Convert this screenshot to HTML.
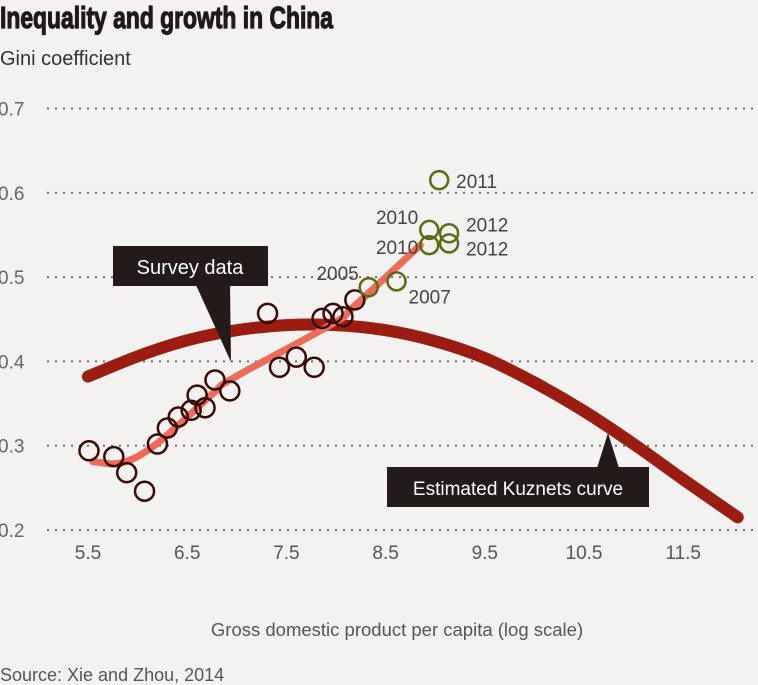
<!DOCTYPE html>
<html><head><meta charset="utf-8">
<style>
html,body{margin:0;padding:0;background:#f3f2f0;}
body{width:758px;height:685px;overflow:hidden;position:relative;font-family:"Liberation Sans",sans-serif;}
svg{position:absolute;left:0;top:0;}
</style></head>
<body>
<svg id="chart" width="758" height="685">
<rect x="0" y="0" width="758" height="685" fill="#f3f2f0"/>
<text x="0" y="28" font-family="Liberation Sans Narrow, Liberation Sans, sans-serif" font-weight="bold" font-size="31" fill="#1e1a1a" stroke="#1e1a1a" stroke-width="1.2" textLength="333" lengthAdjust="spacingAndGlyphs">Inequality and growth in China</text>
<text x="0" y="65" font-size="20" fill="#333">Gini coefficient</text>
<g id="grid"></g>
<g id="ylabels"></g>
<g id="xlabels"></g>
<g id="series"></g>
<text x="397" y="636" text-anchor="middle" font-size="18.5" fill="#555">Gross domestic product per capita (log scale)</text>
<text x="0" y="681" font-size="18" fill="#555">Source: Xie and Zhou, 2014</text>
</svg>
<script>
const yTicks=[0.7,0.6,0.5,0.4,0.3,0.2];
const yTickLabels=["0.7","0.6","0.5","0.4","0.3","0.2"];
const xTicks=[5.5,6.5,7.5,8.5,9.5,10.5,11.5];
const xTickLabels=["5.5","6.5","7.5","8.5","9.5","10.5","11.5"];
const kuzGdp=[5.5,6,6.5,7,7.5,8,8.5,9,9.5,10,10.5,11,11.5,12.05];
const kuzGini=[0.382,0.406,0.425,0.437,0.443,0.443,0.437,0.424,0.404,0.375,0.341,0.302,0.260,0.215];
const trendGdp=[5.55,5.85,6.2,6.76,6.96,7.97,8.18,8.85];
const trendGini=[0.281,0.28,0.303,0.362,0.38,0.445,0.465,0.538];
const surveyGdp=[5.51,5.76,5.89,6.07,6.2,6.3,6.41,6.54,6.6,6.68,6.78,6.93,7.31,7.43,7.6,7.78,7.86,7.97,8.07,8.19];
const surveyGini=[0.294,0.287,0.268,0.246,0.302,0.321,0.334,0.342,0.36,0.345,0.378,0.365,0.457,0.393,0.405,0.393,0.451,0.457,0.453,0.473];
const recentGdp=[8.33,8.61,8.94,8.94,9.14,9.14,9.04];
const recentGini=[0.488,0.495,0.556,0.538,0.552,0.54,0.615];
const recentYears=["2005","2007","2010","2010","2012","2012","2011"];

const NS="http://www.w3.org/2000/svg";
function X(v){return 88+(v-5.5)*99.2;}
function Y(v){return 530-(v-0.2)*843;}
function mk(tag,attrs,parent,txt){const e=document.createElementNS(NS,tag);for(const k in attrs)e.setAttribute(k,attrs[k]);if(txt!==undefined)e.textContent=txt;parent.appendChild(e);return e;}
const grid=document.getElementById('grid'),yl=document.getElementById('ylabels'),xl=document.getElementById('xlabels'),ser=document.getElementById('series');
yTicks.forEach((t,i)=>{
  const l=mk('line',{x1:48,x2:758,y1:Y(t),y2:Y(t),stroke:'#666','stroke-width':2.2,'stroke-dasharray':'0 8','stroke-linecap':'round'},grid);
  
  
  const tx=mk('text',{x:-2,y:Y(t)+7,'font-size':19,fill:'#666'},yl,yTickLabels[i]);
  
  
});
xTicks.forEach((t,i)=>{
  const tx=mk('text',{x:X(t),y:559,'text-anchor':'middle','font-size':19,fill:'#555'},xl,xTickLabels[i]);
  
  
});
function smooth(xs,ys){let p=[];for(let i=0;i<xs.length;i++)p.push([X(xs[i]),Y(ys[i])]);let d='M'+p[0][0]+','+p[0][1];for(let i=0;i<p.length-1;i++){const p0=p[Math.max(0,i-1)],p1=p[i],p2=p[i+1],p3=p[Math.min(p.length-1,i+2)];const c1=[p1[0]+(p2[0]-p0[0])/6,p1[1]+(p2[1]-p0[1])/6],c2=[p2[0]-(p3[0]-p1[0])/6,p2[1]-(p3[1]-p1[1])/6];d+=' C'+c1+' '+c2+' '+p2;}return d;}
const kz=mk('path',{d:smooth(kuzGdp,kuzGini),fill:'none',stroke:'#9b1c10','stroke-width':12,'stroke-linecap':'round'},ser);


const tr=mk('path',{d:smooth(trendGdp,trendGini),fill:'none',stroke:'#ec6b5a','stroke-width':7,'stroke-linecap':'round'},ser);


surveyGdp.forEach((g,i)=>{
  const c=mk('circle',{cx:X(g),cy:Y(surveyGini[i]),r:9.5,fill:'none',stroke:'#3a0a06','stroke-width':2.5},ser);
  
  
});
const off=[[-10,-7,'end'],[12,22,'start'],[-11,-6,'end'],[-11,9,'end'],[17,-2,'start'],[17,12,'start'],[17,8,'start']];
recentGdp.forEach((g,i)=>{
  const c=mk('circle',{cx:X(g),cy:Y(recentGini[i]),r:9,fill:'none',stroke:'#5d6a12','stroke-width':2.5},ser);
  
  
  const t=mk('text',{x:X(g)+off[i][0],y:Y(recentGini[i])+off[i][1],'text-anchor':off[i][2],'font-size':19,fill:'#444'},ser,recentYears[i]);
  
  
});
const sv=mk('g',{},ser);


mk('rect',{x:113,y:246,width:155,height:40,fill:'#231a1a'},sv);
mk('polygon',{points:'196,285 230,285 231,362',fill:'#231a1a'},sv);
mk('text',{x:190,y:274,'text-anchor':'middle','font-size':20,fill:'#fff'},sv,'Survey data');
const kc=mk('g',{},ser);


mk('rect',{x:387,y:467,width:262,height:40,fill:'#231a1a'},kc);
mk('polygon',{points:'597,468 619,468 608,433',fill:'#231a1a'},kc);
mk('text',{x:518,y:495,'text-anchor':'middle','font-size':19,fill:'#fff'},kc,'Estimated Kuznets curve');
</script>
</body></html>
